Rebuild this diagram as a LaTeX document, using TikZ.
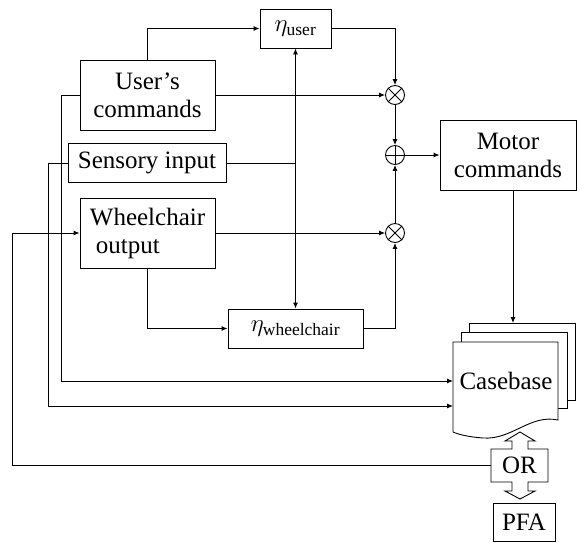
\documentclass[tikz,border=0pt]{standalone}
\usepackage{fontspec}
\setmainfont{Liberation Serif}
\usetikzlibrary{arrows.meta, positioning, calc}

\begin{document}
\begin{tikzpicture}[x=1pt, y=-1pt, line width=0.9pt,
    every node/.style={font=\fontsize{25}{28}\selectfont},
    box/.style={draw, align=center, inner sep=0pt},
    op/.style={draw, circle, minimum size=19pt, inner sep=0pt},
    arr/.style={-{Latex[length=6pt, width=5pt]}}]
    \useasboundingbox (0,0) rectangle (577,542);

    % Blocks
    \node[box, minimum width=135pt, minimum height=70pt] (user) at (147.5,95) {User's\\commands};
    \node[box, minimum width=158pt, minimum height=39pt] (sens) at (147,163) {Sensory input};
    \node[box, minimum width=135pt, minimum height=70pt, align=left] (wheel) at (147.5,233) {Wheelchair\\\hspace{6pt}output};
    \node[box, minimum width=71pt, minimum height=39pt] (etau) at (295.5,28.5) {$\eta_{\mathrm{user}}$};
    \node[box, minimum width=135pt, minimum height=39pt] (etaw) at (295.5,328.5) {$\eta_{\mathrm{wheelchair}}$};
    \node[box, minimum width=136pt, minimum height=70pt] (motor) at (508,155) {Motor\\commands};

    % Operators
    \node[op] (mu1) at (395,95) {};
    \node[op] (sum) at (395,155) {};
    \node[op] (mu2) at (395,233) {};
    \draw (mu1.north west) -- (mu1.south east) (mu1.north east) -- (mu1.south west);
    \draw (mu2.north west) -- (mu2.south east) (mu2.north east) -- (mu2.south west);
    \draw (sum.north) -- (sum.south) (sum.west) -- (sum.east);

    % Casebase
    \draw[fill=white] (469,323) rectangle (575,400);
    \draw[fill=white] (461,332) rectangle (567,408);
    \draw[fill=white] (453,342) -- (558,342) -- (558,420)
        .. controls (530,414) and (512,440) .. (483,438)
        .. controls (470,437) and (460,435) .. (453,432) -- cycle;
    \node (cb) at (506,381) {Casebase};
    \coordinate (cbtop) at (513,323);
    \coordinate (cbin1) at (453,381);
    \coordinate (cbin2) at (453,406);

    % OR and PFA
    \draw[fill=white] (520,432) -- (535,441) -- (528,441) -- (528,449) -- (548,449)
        -- (548,482) -- (528,482) -- (528,491) -- (535,491) -- (520,499)
        -- (505,491) -- (512,491) -- (512,482) -- (491,482) -- (491,449)
        -- (512,449) -- (512,441) -- (505,441) -- cycle;
    \node[minimum width=57pt, minimum height=33pt, inner sep=0pt] (or) at (519.5,465.5) {OR};
    \node[box, minimum width=62pt, minimum height=38pt] (pfa) at (524,522) {PFA};

    % Connections
    \draw[arr] (user.north) |- (etau.west);
    \draw[arr] (etau.east) -| (mu1.north);
    \draw[arr] (user.east) -- (mu1.west);
    \draw (sens.east) -- (sens.east -| etau.south);
    \draw[{Latex[length=6pt, width=5pt]}-{Latex[length=6pt, width=5pt]}] (etau.south) -- (etaw.north);
    \draw[arr] (mu1.south) -- (sum.north);
    \draw[arr] (mu2.north) -- (sum.south);
    \draw[arr] (sum.east) -- (motor.west);
    \draw[arr] (wheel.east) -- (mu2.west);
    \draw[arr] (etaw.east) -| (mu2.south);
    \draw[arr] (wheel.south) |- (etaw.west);
    \draw[arr] (motor.south -| cbtop) -- (cbtop);
    \draw[arr] (user.west) -- ++(-18,0) |- (cbin1);
    \draw[arr] (sens.west) -- ++(-19,0) |- (cbin2);
    \draw[arr] (or.west) -- ++(-478,0) |- (wheel.west);
\end{tikzpicture}
\end{document}
